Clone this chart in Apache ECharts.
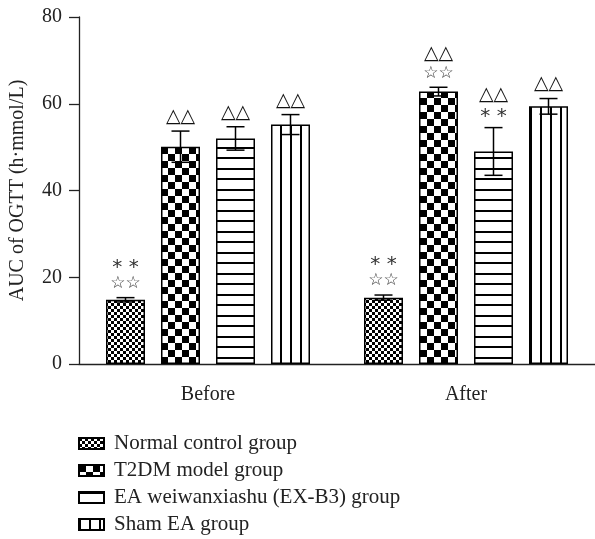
<!DOCTYPE html>
<html>
<head>
<meta charset="utf-8">
<script src="https://cdn.jsdelivr.net/npm/echarts@6/dist/echarts.min.js"></script>
<style>
html,body{margin:0;padding:0;background:#fff;}
#chart{width:595px;height:539px;}
</style>
</head>
<body>
<div id="chart"></div>
<script>
// ---- data ----
const categories = ['Before', 'After'];
const seriesNames = ['Normal control group', 'T2DM model group', 'EA weiwanxiashu (EX-B3) group', 'Sham EA group'];
const normalValues = [14.8, 15.3];
const normalErrors = [0.5, 0.6];
const t2dmValues = [50.1, 62.8];
const t2dmErrors = [3.6, 1.0];
const eaValues = [52.0, 49.0];
const eaErrors = [2.7, 5.5];
const shamValues = [55.2, 59.4];
const shamErrors = [2.3, 1.8];
const normalMarks = [['☆☆', '* *'], ['☆☆', '* *']];
const t2dmMarks = [['△△'], ['☆☆', '△△']];
const eaMarks = [['△△'], ['* *', '△△']];
const shamMarks = [['△△'], ['△△']];
const yTicks = [0, 20, 40, 60, 80];

// ---- styles ----
const SERIF = '"Liberation Serif", "DejaVu Serif", serif';
const BAR_W = 39, BAR_GAP = 16;
const LEGEND_TOP = 433, LEGEND_STEP = 27;
const values = [normalValues, t2dmValues, eaValues, shamValues];
const errors = [normalErrors, t2dmErrors, eaErrors, shamErrors];
const marks = [normalMarks, t2dmMarks, eaMarks, shamMarks];

function pattern(w, h, draw) {
  const c = document.createElement('canvas');
  c.width = w; c.height = h;
  const g = c.getContext('2d');
  g.fillStyle = '#fff'; g.fillRect(0, 0, w, h);
  g.fillStyle = '#000';
  draw(g);
  return { image: c, repeat: 'repeat' };
}
const patterns = [
  pattern(6, 6, g => { g.fillRect(0, 0, 3, 3); g.fillRect(3, 3, 3, 3); }),
  pattern(14, 14, g => { g.fillRect(0, 0, 7, 7); g.fillRect(7, 7, 7, 7); }),
  pattern(4, 21, g => { g.fillRect(0, 0, 4, 2); g.fillRect(0, 10, 4, 2); }),
  pattern(10, 4, g => { g.fillRect(0, 0, 2, 4); })
];

const n = seriesNames.length;
const offsets = seriesNames.map((_, i) => (i - (n - 1) / 2) * (BAR_W + BAR_GAP));

const series = [];
seriesNames.forEach((name, i) => {
  series.push({
    name: name,
    type: 'bar',
    data: values[i],
    barWidth: BAR_W,
    barGap: (BAR_GAP / BAR_W * 100) + '%',
    itemStyle: { color: patterns[i], borderColor: '#000', borderWidth: 1.5 },
    emphasis: { disabled: true },
    animation: false
  });
});
seriesNames.forEach((name, i) => {
  series.push({
    name: name + ' err',
    type: 'custom',
    z: 10,
    animation: false,
    data: categories.map((c, ci) => [ci, values[i][ci], errors[i][ci]]),
    encode: { x: 0, y: 1 },
    renderItem: function (params, api) {
      const ci = api.value(0), v = api.value(1), e = api.value(2);
      const x = api.coord([ci, v])[0] + offsets[i];
      const hi = api.coord([ci, v + e])[1];
      const lo = api.coord([ci, v - e])[1];
      const st = { stroke: '#000', lineWidth: 1.5 };
      const children = [
        { type: 'line', shape: { x1: x, y1: lo, x2: x, y2: hi }, style: st },
        { type: 'line', shape: { x1: x - 9, y1: hi, x2: x + 9, y2: hi }, style: st },
        { type: 'line', shape: { x1: x - 9, y1: lo, x2: x + 9, y2: lo }, style: st }
      ];
      marks[i][ci].forEach((m, k) => {
        const isAst = m.indexOf('*') >= 0;
        const isTri = m.indexOf('△') >= 0;
        children.push({
          type: 'text',
          style: {
            text: m, x: x, y: hi - 14 - k * 19 + (isAst ? 3 : 0),
            align: 'center', verticalAlign: 'middle',
            font: (isTri ? '19px ' : isAst ? '20px ' : '17px ') + '"DejaVu Sans", sans-serif',
            fill: isTri ? '#111' : '#333'
          }
        });
      });
      return { type: 'group', children: children };
    }
  });
});

const legends = seriesNames.map((s, i) => ({
  data: [{ name: s, icon: 'rect' }],
  orient: 'vertical',
  left: 78, top: LEGEND_TOP + i * LEGEND_STEP,
  padding: 0,
  itemWidth: 25, itemHeight: 11,
  selectedMode: false,
  textStyle: { fontFamily: SERIF, fontSize: 21, color: '#222', padding: [0, 0, 0, 5] }
}));

const chart = echarts.init(document.getElementById('chart'), null, { renderer: 'canvas' });
chart.setOption({
  backgroundColor: '#fff',
  animation: false,
  grid: { left: 79, right: -5, top: 17, bottom: 175 },
  legend: legends,
  xAxis: {
    type: 'category',
    data: categories,
    axisLine: { lineStyle: { color: '#222', width: 1.3 } },
    axisTick: { alignWithLabel: true, length: 7, lineStyle: { color: '#222', width: 1.3 } },
    axisLabel: { fontFamily: SERIF, fontSize: 20, color: '#222', margin: 21 }
  },
  yAxis: {
    type: 'value',
    min: yTicks[0], max: yTicks[yTicks.length - 1], interval: 20,
    name: 'AUC of OGTT (h·mmol/L)',
    nameLocation: 'middle', nameGap: 51,
    nameTextStyle: { fontFamily: SERIF, fontSize: 20, color: '#222' },
    axisLine: { show: true, lineStyle: { color: '#222', width: 1.3 } },
    axisTick: { show: true, length: 10, lineStyle: { color: '#222', width: 1.3 } },
    axisLabel: { fontFamily: SERIF, fontSize: 20, color: '#222', margin: 17 },
    splitLine: { show: false }
  },
  series: series
});
</script>
</body>
</html>
